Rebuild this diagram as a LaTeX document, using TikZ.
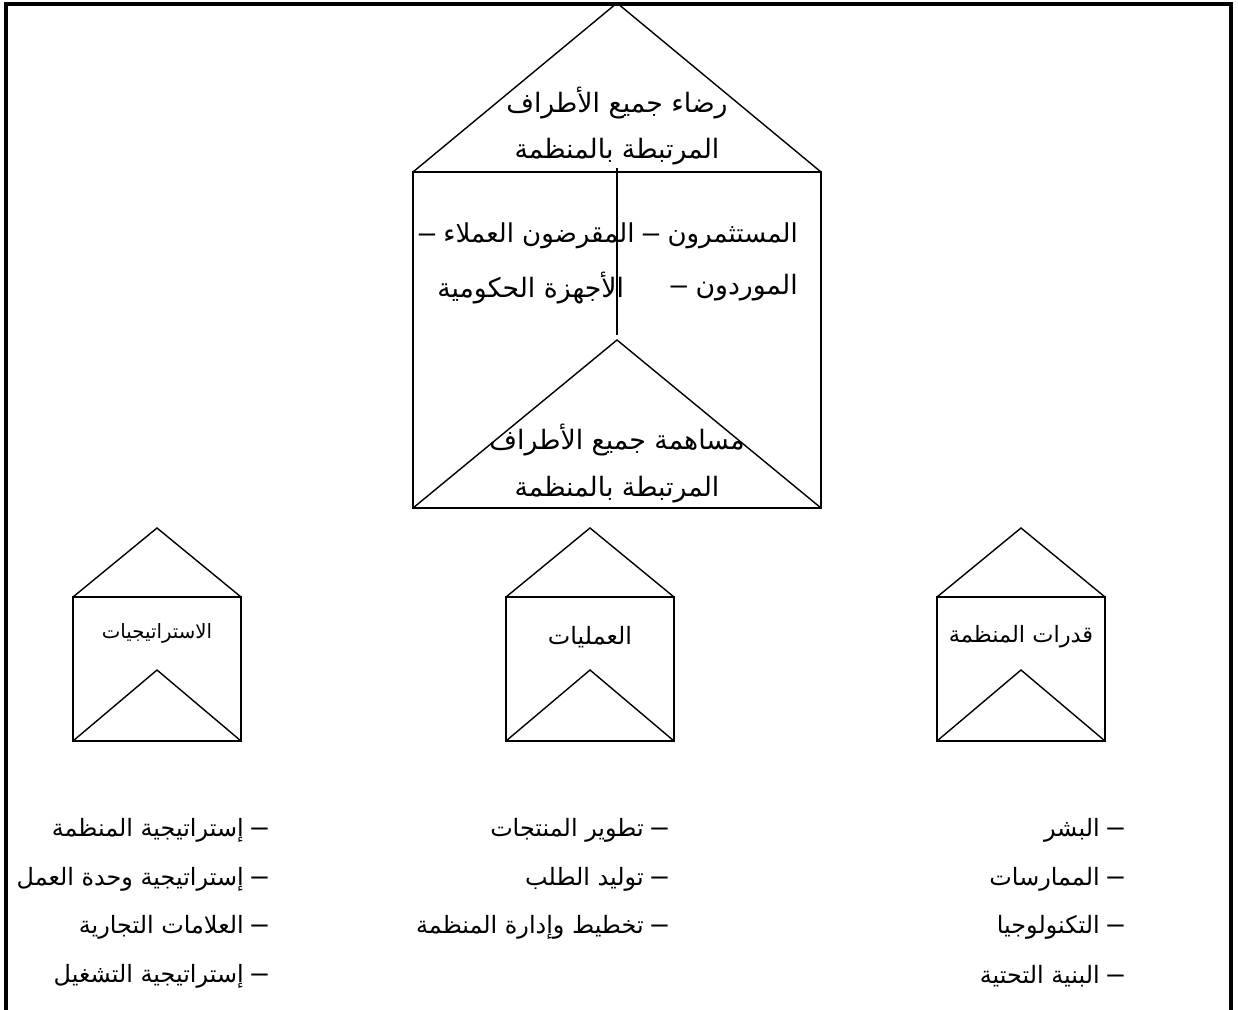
\documentclass[tikz,border=0pt]{standalone}
\usepackage{fontspec}
\TeXXeTstate=1
\newfontfamily\arabicfont[Script=Arabic]{DejaVu Sans}
\newfontfamily\dashfont{Liberation Sans}
\newcommand{\ldash}{{\dashfont\fontsize{21}{21}\selectfont –}}
\begin{document}
\begin{tikzpicture}[x=0.025cm,y=-0.025cm,
    frameline/.style={line width=2.2pt},
    houseline/.style={line width=1pt},
    bigtext/.style={font=\arabicfont\fontsize{19}{23}\selectfont},
    midtext/.style={font=\arabicfont\fontsize{17}{21}\selectfont},
    smalltext/.style={font=\arabicfont\fontsize{14}{17}\selectfont},
    listitem/.style={anchor=east,inner sep=0pt,font=\arabicfont\fontsize{17}{21}\selectfont}]
  \useasboundingbox (0,0) rectangle (1238,1010);
  % outer frame, open at the bottom
  \draw[frameline] (6,1010) -- (6,4) -- (1231,4) -- (1231,1010);
  % big house
  \coordinate (roofL) at (413,172);
  \coordinate (roofR) at (821,172);
  \coordinate (apex) at (617,3);
  \coordinate (baseL) at (413,508);
  \coordinate (baseR) at (821,508);
  \coordinate (inner) at (617,340);
  \draw[houseline] (roofL) -- (apex) -- (roofR);
  \draw[houseline] (roofL) rectangle (baseR);
  \draw[houseline] (baseL) -- (inner) -- (baseR);
  \draw[houseline] (617,168) coordinate (divT) -- (617,335) coordinate (divB);
  \node[bigtext] (sat1) at (617,103) {\beginR رضاء جميع الأطراف\endR};
  \node[bigtext] (sat2) at (617,152) {\beginR المرتبطة بالمنظمة\endR};
  \node[bigtext,font=\arabicfont\fontsize{18.5}{22}\selectfont,anchor=east,inner sep=0pt] (grp1) at (798,236) {\beginR المستثمرون \ldash{} المقرضون العملاء \ldash\endR};
  \node[bigtext,anchor=east,inner sep=0pt] (grp2) at (798,288) {\beginR الموردون \ldash\endR};
  \node[bigtext,anchor=west,inner sep=0pt] (grp3) at (437,288) {\beginR الأجهزة الحكومية\endR};
  \node[bigtext] (con1) at (617,440) {\beginR مساهمة جميع الأطراف\endR};
  \node[bigtext] (con2) at (617,490) {\beginR المرتبطة بالمنظمة\endR};
  % three small houses
  \foreach \cx in {157,590,1021} {
    \draw[houseline] (\cx-84,597) -- (\cx,528) -- (\cx+84,597);
    \draw[houseline] (\cx-84,597) rectangle (\cx+84,741);
    \draw[houseline] (\cx-84,741) -- (\cx,670) -- (\cx+84,741);
  }
  \node[smalltext] (strat) at (157,633) {\beginR الاستراتيجيات\endR};
  \node[midtext] (ops) at (590,637) {\beginR العمليات\endR};
  \node[midtext,font=\arabicfont\fontsize{16}{20}\selectfont] (caps) at (1021,637) {\beginR قدرات المنظمة\endR};
  % lists
  \node[listitem] (s1) at (268,830) {\beginR\ldash{} إستراتيجية المنظمة\endR};
  \node[listitem] (s2) at (268,879) {\beginR\ldash{} إستراتيجية وحدة العمل\endR};
  \node[listitem] (s3) at (268,927) {\beginR\ldash{} العلامات التجارية\endR};
  \node[listitem] (s4) at (268,976) {\beginR\ldash{} إستراتيجية التشغيل\endR};
  \node[listitem] (o1) at (668,830) {\beginR\ldash{} تطوير المنتجات\endR};
  \node[listitem] (o2) at (668,879) {\beginR\ldash{} توليد الطلب\endR};
  \node[listitem] (o3) at (668,927) {\beginR\ldash{} تخطيط وإدارة المنظمة\endR};
  \node[listitem] (c1) at (1124,830) {\beginR\ldash{} البشر\endR};
  \node[listitem] (c2) at (1124,879) {\beginR\ldash{} الممارسات\endR};
  \node[listitem] (c3) at (1124,927) {\beginR\ldash{} التكنولوجيا\endR};
  \node[listitem] (c4) at (1124,976) {\beginR\ldash{} البنية التحتية\endR};
\end{tikzpicture}
\end{document}
